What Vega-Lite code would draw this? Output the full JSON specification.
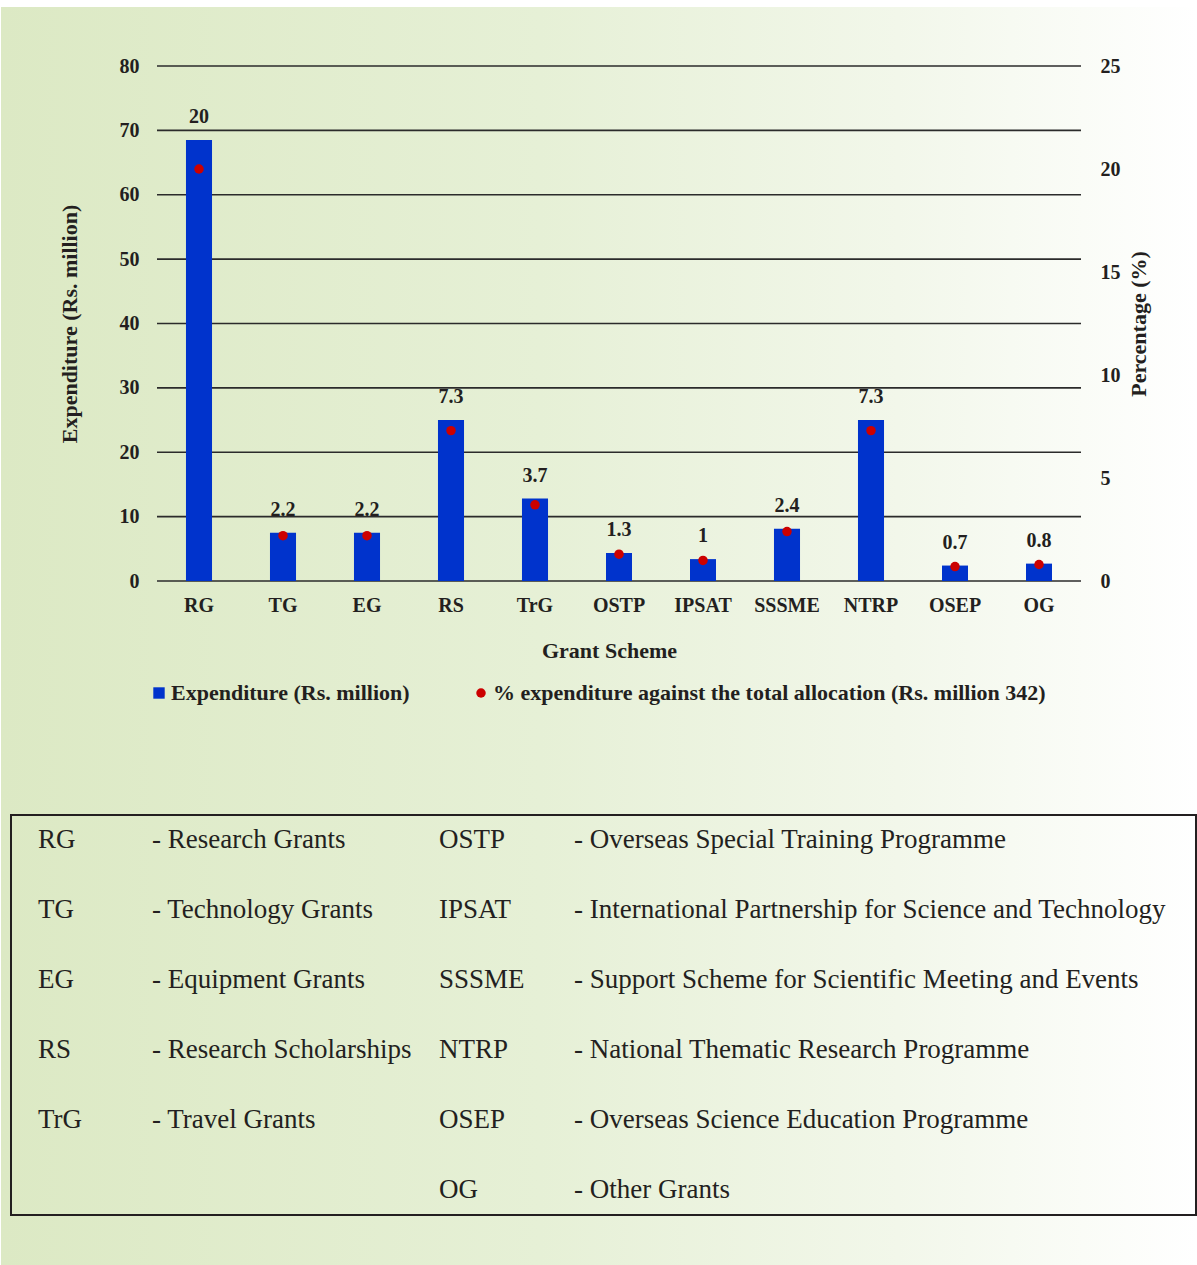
{
  "$schema": "https://vega.github.io/schema/vega-lite/v6.json",
  "padding": {"left": 1, "top": 7, "right": 0, "bottom": 0},
  "autosize": {"type": "pad"},
  "bounds": "flush",
  "spacing": 234,
  "resolve": {"scale": {"color": "independent"}, "legend": {"color": "independent"}},
  "config": {
    "view": {"stroke": null},
    "font": "Liberation Serif",
    "axis": {
      "labelFont": "Liberation Serif",
      "labelFontWeight": "bold",
      "labelFontSize": 20,
      "labelColor": "#231f20",
      "titleFont": "Liberation Serif",
      "titleFontWeight": "bold",
      "titleFontSize": 22,
      "titleColor": "#231f20",
      "ticks": false,
      "domain": false,
      "grid": false
    }
  },
  "vconcat": [
    {
      "width": 924,
      "height": 515,
      "data": {
        "values": [
          {"Grant": "RG", "Expenditure": 68.5, "Percentage": 20},
          {"Grant": "TG", "Expenditure": 7.5, "Percentage": 2.2},
          {"Grant": "EG", "Expenditure": 7.5, "Percentage": 2.2},
          {"Grant": "RS", "Expenditure": 25.0, "Percentage": 7.3},
          {"Grant": "TrG", "Expenditure": 12.8, "Percentage": 3.7},
          {"Grant": "OSTP", "Expenditure": 4.35, "Percentage": 1.3},
          {"Grant": "IPSAT", "Expenditure": 3.4, "Percentage": 1},
          {"Grant": "SSSME", "Expenditure": 8.1, "Percentage": 2.4},
          {"Grant": "NTRP", "Expenditure": 25.0, "Percentage": 7.3},
          {"Grant": "OSEP", "Expenditure": 2.4, "Percentage": 0.7},
          {"Grant": "OG", "Expenditure": 2.7, "Percentage": 0.8}
        ]
      },
      "layer": [
        {
          "data": {"values": [{"part": "background"}]},
          "mark": {"type": "rect", "strokeWidth": 0, "fill": {"gradient": "linear", "x1": 0, "y1": 0, "x2": 1, "y2": 0, "stops": [{"offset": 0, "color": "#dce9c4"}, {"offset": 0.45, "color": "#e6f0d6"}, {"offset": 0.75, "color": "#f2f7ea"}, {"offset": 1, "color": "#ffffff"}]}},
          "encoding": {
            "x": {"datum": 0, "type": "quantitative", "scale": {"domain": [0, 1], "range": [-156, 1040]}, "axis": null},
            "x2": {"datum": 1},
            "y": {"datum": 0, "type": "quantitative", "scale": {"domain": [0, 1], "range": [-59, 1199]}, "axis": null},
            "y2": {"datum": 1}
          }
        },
        {
          "data": {"values": [{"tick": 0}, {"tick": 10}, {"tick": 20}, {"tick": 30}, {"tick": 40}, {"tick": 50}, {"tick": 60}, {"tick": 70}, {"tick": 80}]},
          "mark": {"type": "rule", "color": "#2b2b2b", "strokeWidth": 1.6},
          "encoding": {
            "y": {"field": "tick", "type": "quantitative", "scale": {"domain": [0, 80]}, "axis": null}
          }
        },
        {
          "mark": {"type": "bar", "color": "#0033cc"},
          "encoding": {
            "x": {
              "field": "Grant", "type": "nominal", "sort": null,
              "scale": {"paddingInner": 0.69, "paddingOuter": 0.345},
              "axis": {"title": "Grant Scheme", "labelAngle": 0, "labelPadding": 14, "titlePadding": 25, "titleX": 452, "zindex": 1}
            },
            "y": {
              "field": "Expenditure", "type": "quantitative",
              "scale": {"domain": [0, 80]},
              "axis": {"orient": "left", "title": "Expenditure (Rs. million)", "values": [0, 10, 20, 30, 40, 50, 60, 70, 80], "labelPadding": 18, "titlePadding": 38, "zindex": 1}
            },
            "color": {
              "datum": "Expenditure (Rs. million)",
              "scale": {"domain": ["Expenditure (Rs. million)", "% expenditure against the total allocation (Rs. million 342)"], "range": ["#0033cc", "#cc0000"]},
              "legend": {
                "orient": "none", "legendX": -9, "legendY": 616, "direction": "horizontal", "title": null,
                "labelFont": "Liberation Serif", "labelFontSize": 22, "labelFontWeight": "bold", "labelColor": "#231f20", "labelLimit": 700,
                "symbolSize": 130, "symbolStrokeWidth": 0, "columnPadding": 60, "labelOffset": 1,
                "encode": {"symbols": {"update": {"shape": {"signal": "datum.value == 'Expenditure (Rs. million)' ? 'square' : 'circle'"}, "size": {"signal": "datum.value == 'Expenditure (Rs. million)' ? 130 : 90"}}}}
              }
            }
          }
        },
        {
          "mark": {"type": "point", "filled": true, "size": 90, "opacity": 1},
          "encoding": {
            "x": {"field": "Grant", "type": "nominal", "sort": null, "axis": null},
            "y": {
              "field": "Percentage", "type": "quantitative",
              "scale": {"domain": [0, 25]},
              "axis": {"orient": "right", "title": "Percentage (%)", "values": [0, 5, 10, 15, 20, 25], "labelPadding": 19, "titleAngle": 270, "titlePadding": 30, "zindex": 1}
            },
            "color": {"datum": "% expenditure against the total allocation (Rs. million 342)"}
          }
        },
        {
          "mark": {"type": "text", "baseline": "alphabetic", "dy": -17, "fontSize": 20, "fontWeight": "bold", "font": "Liberation Serif", "color": "#231f20"},
          "encoding": {
            "x": {"field": "Grant", "type": "nominal", "sort": null, "axis": null},
            "y": {"field": "Expenditure", "type": "quantitative", "scale": {"domain": [0, 80]}, "axis": null},
            "text": {"field": "Percentage", "type": "quantitative"}
          }
        }
      ],
      "resolve": {"scale": {"x": "independent", "y": "independent"}}
    },
    {
      "width": 1039,
      "height": 400,
      "layer": [
        {
          "data": {"values": [{"part": "frame"}]},
          "mark": {"type": "rect", "fill": "#ffffff", "fillOpacity": 0, "stroke": "#231f20", "strokeWidth": 2},
          "encoding": {
            "x": {"datum": 0, "type": "quantitative", "scale": {"domain": [0, 1], "range": [-146, 1039]}, "axis": null},
            "x2": {"datum": 1},
            "y": {"datum": 0, "type": "quantitative", "scale": {"domain": [0, 1]}, "axis": null},
            "y2": {"datum": 1}
          }
        },
        {
          "data": {
            "values": [
              {"row": 1, "col": 1, "label": "RG"},
              {"row": 1, "col": 2, "label": "- Research Grants"},
              {"row": 1, "col": 3, "label": "OSTP"},
              {"row": 1, "col": 4, "label": "- Overseas Special Training Programme"},
              {"row": 2, "col": 1, "label": "TG"},
              {"row": 2, "col": 2, "label": "- Technology Grants"},
              {"row": 2, "col": 3, "label": "IPSAT"},
              {"row": 2, "col": 4, "label": "- International Partnership for Science and Technology"},
              {"row": 3, "col": 1, "label": "EG"},
              {"row": 3, "col": 2, "label": "- Equipment Grants"},
              {"row": 3, "col": 3, "label": "SSSME"},
              {"row": 3, "col": 4, "label": "- Support Scheme for Scientific Meeting and Events"},
              {"row": 4, "col": 1, "label": "RS"},
              {"row": 4, "col": 2, "label": "- Research Scholarships"},
              {"row": 4, "col": 3, "label": "NTRP"},
              {"row": 4, "col": 4, "label": "- National Thematic Research Programme"},
              {"row": 5, "col": 1, "label": "TrG"},
              {"row": 5, "col": 2, "label": "- Travel Grants"},
              {"row": 5, "col": 3, "label": "OSEP"},
              {"row": 5, "col": 4, "label": "- Overseas Science Education Programme"},
              {"row": 6, "col": 3, "label": "OG"},
              {"row": 6, "col": 4, "label": "- Other Grants"}
            ]
          },
          "mark": {"type": "text", "align": "left", "baseline": "middle", "fontSize": 27, "font": "Liberation Serif", "color": "#231f20"},
          "encoding": {
            "x": {"field": "col", "type": "quantitative", "scale": {"domain": [1, 2, 3, 4], "range": [-119, -5, 282, 417]}, "axis": null},
            "y": {"field": "row", "type": "ordinal", "scale": {"type": "point", "padding": 0.357}, "axis": null},
            "text": {"field": "label"}
          }
        }
      ],
      "resolve": {"scale": {"x": "independent", "y": "independent"}}
    }
  ]
}
